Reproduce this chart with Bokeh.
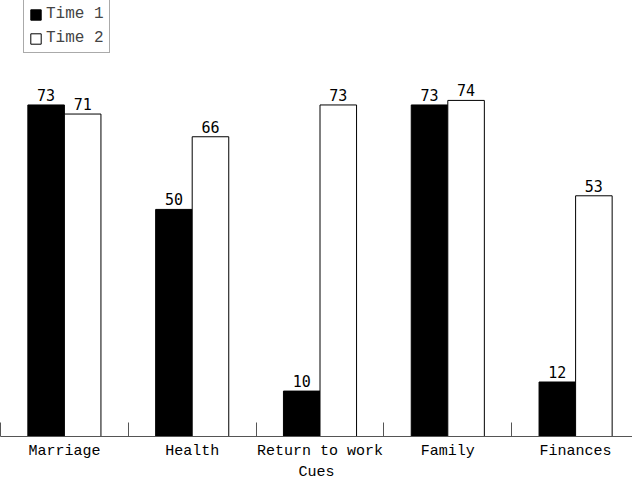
from bokeh.plotting import figure
from bokeh.models import ColumnDataSource, FixedTicker, Legend, LegendItem, Range1d, LabelSet
from bokeh.embed import file_html
from bokeh.resources import INLINE
from bokeh.core.properties import value

categories = ["Marriage", "Health", "Return to work", "Family", "Finances"]
time1 = [73, 50, 10, 73, 12]
time2 = [71, 66, 73, 74, 53]
series_names = ["Time 1", "Time 2"]

FONT = "Liberation Mono"
n = len(categories)
centers = [i + 0.5 for i in range(n)]
dodge = 0.143
bw = 0.286

src1 = ColumnDataSource(dict(x=[c - dodge for c in centers], top=time1, lab=[str(v) for v in time1]))
src2 = ColumnDataSource(dict(x=[c + dodge for c in centers], top=time2, lab=[str(v) for v in time2]))

p = figure(width=632, height=483, output_backend="svg", toolbar_location=None,
           x_range=Range1d(0, 632 / 127.8), y_range=Range1d(0, 96),
           min_border_left=0, min_border_right=0, min_border_top=0, min_border_bottom=0,
           y_axis_location=None)
p.outline_line_color = None
p.xgrid.visible = False
p.ygrid.visible = False

r1 = p.vbar(x="x", top="top", width=bw, source=src1, fill_color="black", line_color="black", line_width=1)
r2 = p.vbar(x="x", top="top", width=bw, source=src2, fill_color="white", line_color="black", line_width=1)

for s in (src1, src2):
    p.add_layout(LabelSet(x="x", y="top", text="lab", source=s, text_align="center",
                          text_baseline="bottom", y_offset=4, text_font=value("DejaVu Sans Mono"),
                          text_font_size="15px", text_color="black"))

ax = p.xaxis[0]
ax.ticker = FixedTicker(ticks=centers, minor_ticks=list(range(n + 1)))
ax.major_label_overrides = {c: cat for c, cat in zip(centers, categories)}
ax.major_tick_in = 0
ax.major_tick_out = 0
ax.minor_tick_in = 14
ax.minor_tick_out = 0
ax.minor_tick_line_color = "#555555"
ax.axis_line_color = "#555555"
ax.major_label_text_font = FONT
ax.major_label_text_font_size = "15px"
ax.major_label_text_color = "black"
ax.major_label_standoff = 6
ax.axis_label = "Cues"
ax.axis_label_text_font = FONT
ax.axis_label_text_font_size = "15px"
ax.axis_label_text_font_style = "normal"
ax.axis_label_text_color = "black"
ax.axis_label_standoff = 1

legend = Legend(items=[LegendItem(label=series_names[0], renderers=[r1]),
                       LegendItem(label=series_names[1], renderers=[r2])],
                location=(23, 383), margin=0, padding=5, spacing=6,
                label_text_font=FONT, label_text_font_size="16px", label_height=18,
                border_line_color="#555555", border_line_width=1,
                glyph_width=13, glyph_height=13, label_standoff=4)
p.add_layout(legend)

open("out.html", "w").write(file_html(p, INLINE))
